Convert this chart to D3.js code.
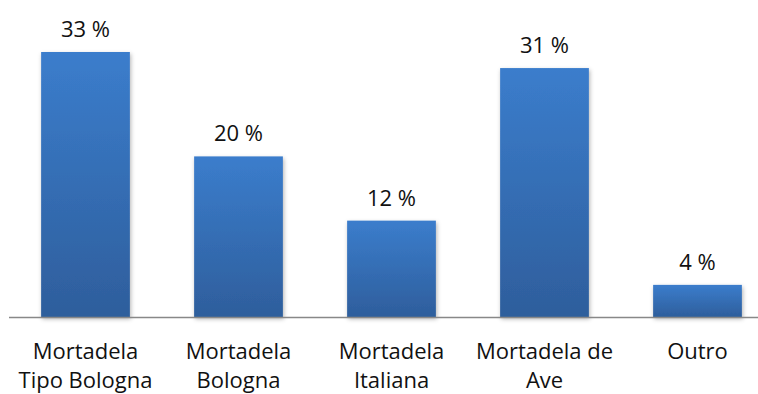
<!DOCTYPE html>
<html>
<head>
<meta charset="utf-8">
<script src="https://cdn.jsdelivr.net/npm/d3@7"></script>
<style>
  body { margin: 0; background: #fff; }
  svg text { font-family: "Open Sans", "Noto Sans", sans-serif; fill: #111; }
</style>
</head>
<body>
<svg id="chart" width="758" height="394"></svg>
<script>
// data
var categories = ["Mortadela Tipo Bologna", "Mortadela Bologna", "Mortadela Italiana", "Mortadela de Ave", "Outro"];
var labelLines = [["Mortadela", "Tipo Bologna"], ["Mortadela", "Bologna"], ["Mortadela", "Italiana"], ["Mortadela de", "Ave"], ["Outro"]];
var values = [33, 20, 12, 31, 4];

var svg = d3.select("#chart");
var baseY = 317;

var x = d3.scaleBand()
  .domain(categories)
  .range([9, 774])
  .paddingInner(0.42)
  .paddingOuter(0.21);

var y = d3.scaleLinear()
  .domain([0, 33])
  .range([baseY, 52]);

var defs = svg.append("defs");
var grad = defs.append("linearGradient")
  .attr("id", "barGrad")
  .attr("x1", 0).attr("y1", 0).attr("x2", 0).attr("y2", 1);
grad.append("stop").attr("offset", "0%").attr("stop-color", "#3b7dcc");
grad.append("stop").attr("offset", "100%").attr("stop-color", "#2e5e9c");

var shadow = defs.append("filter").attr("id", "shadow")
  .attr("x", "-10%").attr("y", "-10%").attr("width", "130%").attr("height", "130%");
shadow.append("feDropShadow")
  .attr("dx", 1).attr("dy", 2).attr("stdDeviation", 2)
  .attr("flood-color", "#000").attr("flood-opacity", 0.3);

// bars
svg.selectAll("rect.bar")
  .data(values)
  .enter().append("rect")
  .attr("class", "bar")
  .attr("x", function(d, i){ return x(categories[i]); })
  .attr("y", function(d){ return y(d); })
  .attr("width", x.bandwidth())
  .attr("height", function(d){ return baseY - y(d); })
  .attr("fill", "url(#barGrad)")
  .attr("filter", "url(#shadow)");

// axis line
svg.append("line")
  .attr("x1", 9).attr("x2", 758)
  .attr("y1", baseY + 0.5).attr("y2", baseY + 0.5)
  .attr("stroke", "#888").attr("stroke-width", 1.5);

// value labels
svg.selectAll("text.val")
  .data(values)
  .enter().append("text")
  .attr("class", "val")
  .attr("x", function(d, i){ return x(categories[i]) + x.bandwidth() / 2; })
  .attr("y", function(d){ return y(d) - 15; })
  .attr("text-anchor", "middle")
  .style("font-size", "22px")
  .text(function(d){ return d + " %"; });

// category labels
var cat = svg.selectAll("text.cat")
  .data(labelLines)
  .enter().append("text")
  .attr("class", "cat")
  .attr("text-anchor", "middle")
  .style("font-size", "22px")
  .attr("transform", function(d, i){
    return "translate(" + (x(categories[i]) + x.bandwidth() / 2) + ",359)";
  });
cat.selectAll("tspan")
  .data(function(d){ return d; })
  .enter().append("tspan")
  .attr("x", 0)
  .attr("dy", function(d, j){ return j === 0 ? 0 : 29; })
  .text(function(d){ return d; });
</script>
</body>
</html>
